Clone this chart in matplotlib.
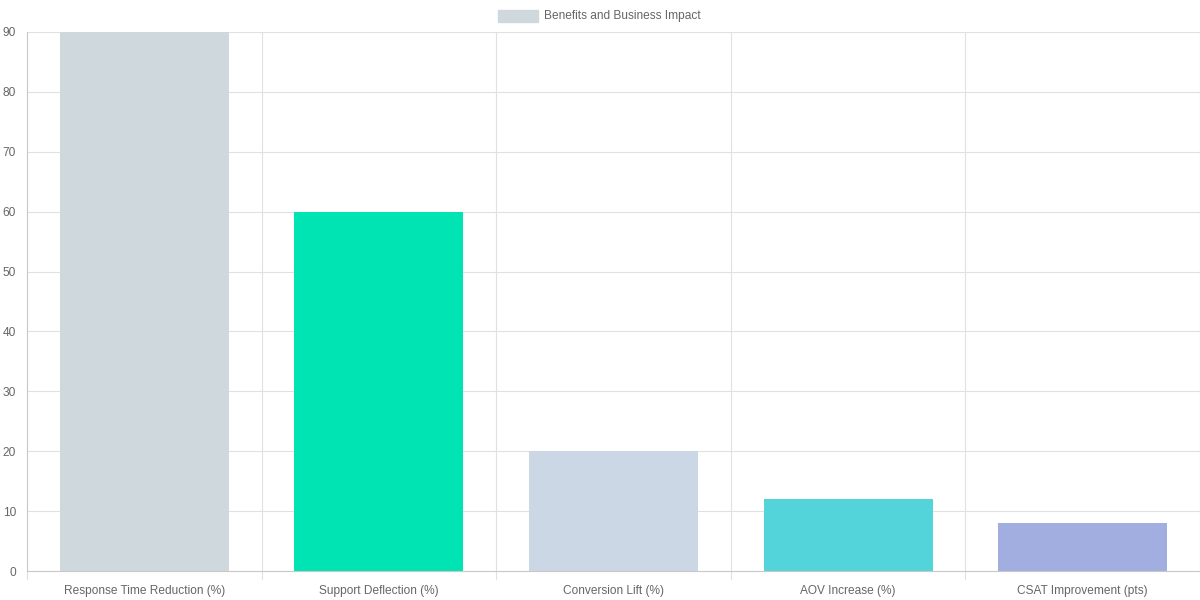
import numpy as np
import matplotlib.pyplot as plt
from matplotlib.patches import Rectangle

plt.rcParams['font.family'] = ['Liberation Sans', 'DejaVu Sans']

categories = ['Response Time Reduction (%)', 'Support Deflection (%)', 'Conversion Lift (%)',
              'AOV Increase (%)', 'CSAT Improvement (pts)']
values = [90, 60, 20, 12, 8]
colors = ['#cfd8dc', '#00e3b3', '#cbd7e4', '#53d3da', '#a3aee0']
series_name = 'Benefits and Business Impact'

fig = plt.figure(figsize=(12, 6), dpi=100)
ax = fig.add_axes([27 / 1200, 29 / 600, 1173 / 1200, 539 / 600])

x = np.arange(len(categories))
ax.bar(x, values, width=0.72, color=colors, zorder=2)

ax.set_xlim(-0.5, len(categories) - 0.5)
ax.set_ylim(0, 90)
ax.set_yticks(np.arange(0, 91, 10))
ax.set_xticks(x)
ax.set_xticklabels(categories)

grid_c = '#e1e1e1'
for yv in np.arange(10, 91, 10):
    ax.axhline(yv, color=grid_c, lw=0.8, zorder=1)
for xv in np.arange(-0.5, len(categories), 1.0):
    ax.axvline(xv, color=grid_c, lw=0.8, zorder=1)
    ax.plot([xv, xv], [0, -0.015], transform=ax.get_xaxis_transform(),
            color=grid_c, lw=0.8, clip_on=False)

for s in ['top', 'right']:
    ax.spines[s].set_visible(False)
ax.spines['left'].set_color('#c8c8c8')
ax.spines['bottom'].set_color('#c8c8c8')
ax.spines['left'].set_linewidth(0.8)
ax.spines['bottom'].set_linewidth(0.8)

ax.tick_params(axis='x', length=0, pad=10, labelsize=8.6, labelcolor='#666666')
ax.tick_params(axis='y', length=0, pad=8, labelsize=8.6, labelcolor='#666666')

# legend
fig.patches.append(Rectangle((498 / 1200, 1 - 22 / 600), 40 / 1200, 12 / 600,
                             transform=fig.transFigure, color=colors[0]))
fig.text(544 / 1200, 1 - 16.5 / 600, series_name, fontsize=8.6, color='#666666',
         va='center', ha='left')

fig.savefig('out.png', dpi=100)
